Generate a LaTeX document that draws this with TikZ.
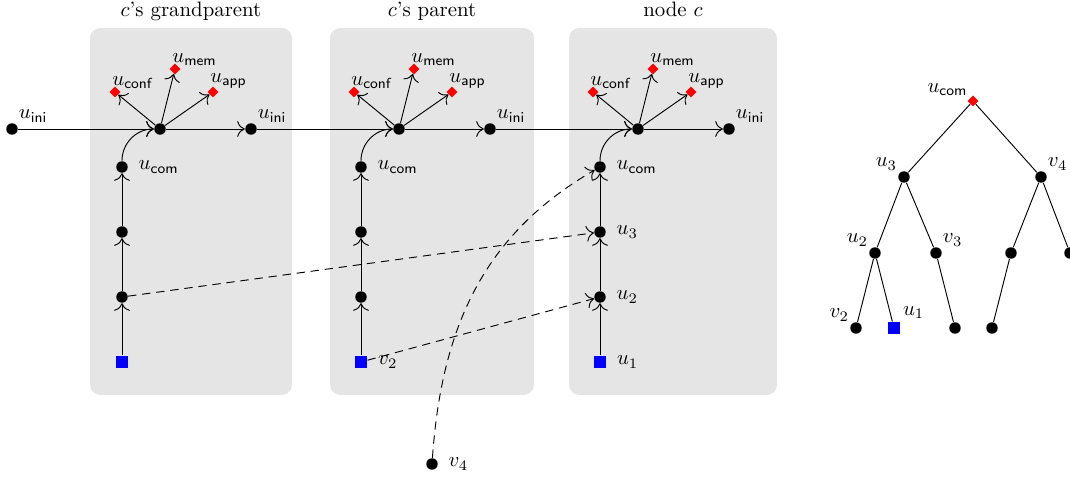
\documentclass[tikz,border=0pt]{standalone}
\usepackage{amsmath}
\usepackage{tikz}
\usetikzlibrary{shapes.geometric,arrows.meta}

\tikzset{
  >={Computer Modern Rightarrow[scale=1.4]},
  dot/.style={circle,fill=black,inner sep=0pt,minimum size=5.5pt},
  leaf/.style={rectangle,fill=blue,inner sep=0pt,minimum size=5.8pt},
  reddia/.style={diamond,fill=red,inner sep=0pt,minimum size=5.3pt},
  panel/.style={fill=gray!20,rounded corners=5pt},
  link/.style={dash pattern=on 4pt off 2.8pt,->},
  rlab/.style={label={[label distance=1.5pt]right:#1}},
  arlab/.style={label={[inner sep=1pt]above right:#1}},
  allab/.style={label={[inner sep=1pt]above left:#1}},
  dlab/.style={label={[anchor=south west,inner sep=0pt,xshift=-1.5pt,yshift=-1.5pt]90:#1}}
}

\begin{document}
\begin{tikzpicture}[x=.48pt,y=-.48pt,line width=.45pt]
\useasboundingbox (0,0) rectangle (1070,477);
\node[dot,arlab={$u_{\mathsf{ini}}$}] (ini0) at (12,129) {};
% the three nodes c, its parent and grandparent
\foreach \i/\dx/\pl/\pr/\ttl/\lb/\la/\lsq in {
    1/0/90/292/{$c$'s grandparent}/{}/{}/{},
    2/239/330/534/{$c$'s parent}/{}/{}/{$v_2$},
    3/478/569/777/{node $c$}/{$u_3$}/{$u_2$}/{$u_1$}}{
  \pgfmathtruncatemacro\j{\i-1}
  \pgfmathsetmacro\h{160+\dx}
  \fill[panel] (\pl,28) rectangle (\pr,395);
  \node[anchor=base] (title\i) at ({(\pl+\pr)/2},17) {\ttl};
  \node[dot] (hub\i) at (\h,129) {};
  \node[dot,arlab={$u_{\mathsf{ini}}$}] (ini\i) at (\h+91,129) {};
  \node[reddia,dlab={$u_{\mathsf{conf}}$}] (conf\i) at (\h-45,92) {};
  \node[reddia,dlab={$u_{\mathsf{mem}}$}] (mem\i) at (\h+15,69) {};
  \node[reddia,dlab={$u_{\mathsf{app}}$}] (app\i) at (\h+53,92) {};
  \node[dot,rlab={$u_{\mathsf{com}}$}] (com\i) at (\h-38,167) {};
  \node[dot,rlab=\lb] (b\i) at (\h-38,232) {};
  \node[dot,rlab=\la] (a\i) at (\h-38,297) {};
  \node[leaf,rlab=\lsq] (sq\i) at (\h-38,362) {};
  \draw[->] (ini\j) -- (hub\i);
  \draw[->] (hub\i) -- (ini\i);
  \foreach \t in {conf,mem,app} \draw[->] (hub\i) -- (\t\i);
  \draw[->] (sq\i) -- (a\i);
  \draw[->] (a\i) -- (b\i);
  \draw[->] (b\i) -- (com\i);
  \draw[->] (com\i) to[out=90,in=180] (hub\i);
}
\node[dot,rlab={$v_4$}] (v4) at (432,464) {};
\draw[link] (a1) -- (b3);
\draw[link] (sq2) -- (a3);
\draw[link] (v4) to[out=86,in=210] (com3);

% the tree
\node[reddia,allab={$u_{\mathsf{com}}$}] (rcom) at (973,101) {};
\node[dot,allab={$u_3$}] (r3) at (904,177) {};
\node[dot,arlab={$v_4$}] (r4) at (1041,177) {};
\node[dot,allab={$u_2$}] (r2) at (875,253) {};
\node[dot,arlab={$v_3$}] (rv3) at (936,253) {};
\node[dot] (r5) at (1011,253) {};
\node[dot] (r6) at (1070,253) {};
\node[dot,allab={$v_2$}] (rv2) at (856,328) {};
\node[leaf,arlab={$u_1$}] (ru1) at (894,328) {};
\node[dot] (r7) at (955,328) {};
\node[dot] (r8) at (992,328) {};
\draw (rcom) -- (r3) (rcom) -- (r4);
\draw (r3) -- (r2) (r3) -- (rv3);
\draw (r2) -- (rv2) (r2) -- (ru1);
\draw (rv3) -- (r7);
\draw (r4) -- (r5) (r4) -- (r6);
\draw (r5) -- (r8);
\end{tikzpicture}
\end{document}
